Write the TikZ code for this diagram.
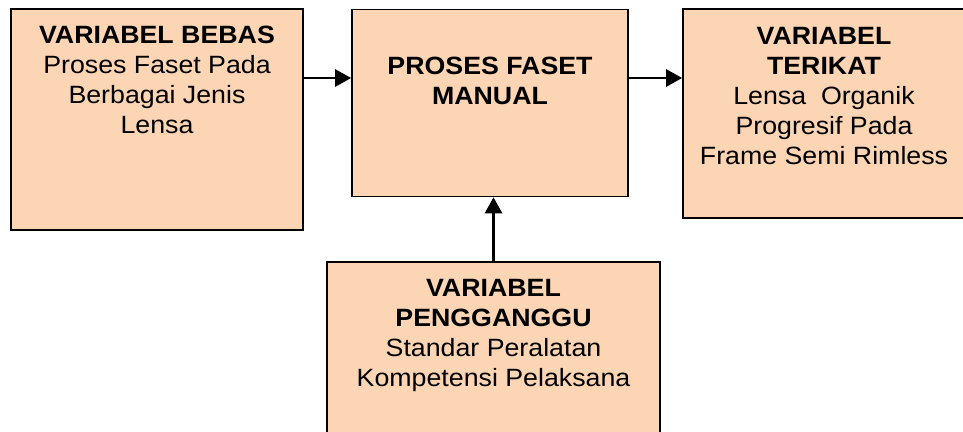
\documentclass[tikz,border=0pt]{standalone}
\usepackage{fontspec}
\setmainfont{Liberation Sans}[FakeStretch=1.07]
\usetikzlibrary{arrows.meta}
\definecolor{pfirsich}{RGB}{252,213,181}

\begin{document}
\begin{tikzpicture} [x = 1pt, y = -1pt,
        kasten/.style = {draw, line width = 1.6pt, fill = pfirsich, inner sep = 0pt},
        beschr/.style = {anchor = north, align = center, inner sep = 0pt, font = \fontsize{25}{30}\selectfont},
        pfeil/.style = {-{Triangle[length = 16pt, width = 17pt]}, line width = 2.6pt}]
            \useasboundingbox (0, 0) rectangle (963, 431);

            % Kästen
            \node [kasten, minimum width = 292pt, minimum height = 221pt] (bebas) at (157, 119.5) {};
            \node [kasten, minimum width = 276pt, minimum height = 187pt] (manual) at (490, 103) {};
            \node [kasten, minimum width = 282pt, minimum height = 209pt] (terikat) at (824, 113.5) {};
            \node [kasten, minimum width = 333pt, minimum height = 178pt] (ganggu) at (493.5, 351) {};

            % Beschriftungen
            \node [beschr] (bebastext) at ([yshift = -17.5pt] bebas.north)
                {\textbf{VARIABEL BEBAS}\\Proses Faset Pada\\Berbagai Jenis\\Lensa};
            \node [beschr] (manualtext) at ([yshift = -48.5pt] manual.north)
                {\textbf{PROSES FASET}\\\textbf{MANUAL}};
            \node [beschr] (terikattext) at ([yshift = -18.5pt] terikat.north)
                {\textbf{VARIABEL}\\\textbf{TERIKAT}\\Lensa~ Organik\\Progresif Pada\\Frame Semi Rimless};
            \node [beschr] (ganggutext) at ([yshift = -18pt] ganggu.north)
                {\textbf{VARIABEL}\\\textbf{PENGGANGGU}\\Standar Peralatan\\Kompetensi Pelaksana};

            % Pfeile
            \coordinate (zeile) at (0, 78);
            \draw [pfeil] (bebas.east |- zeile) -- (manual.west |- zeile);
            \draw [pfeil] (manual.east |- zeile) -- (terikat.west |- zeile);
            \draw [pfeil] (ganggu.north) -- (ganggu.north |- manual.south);
        \end{tikzpicture}
\end{document}
